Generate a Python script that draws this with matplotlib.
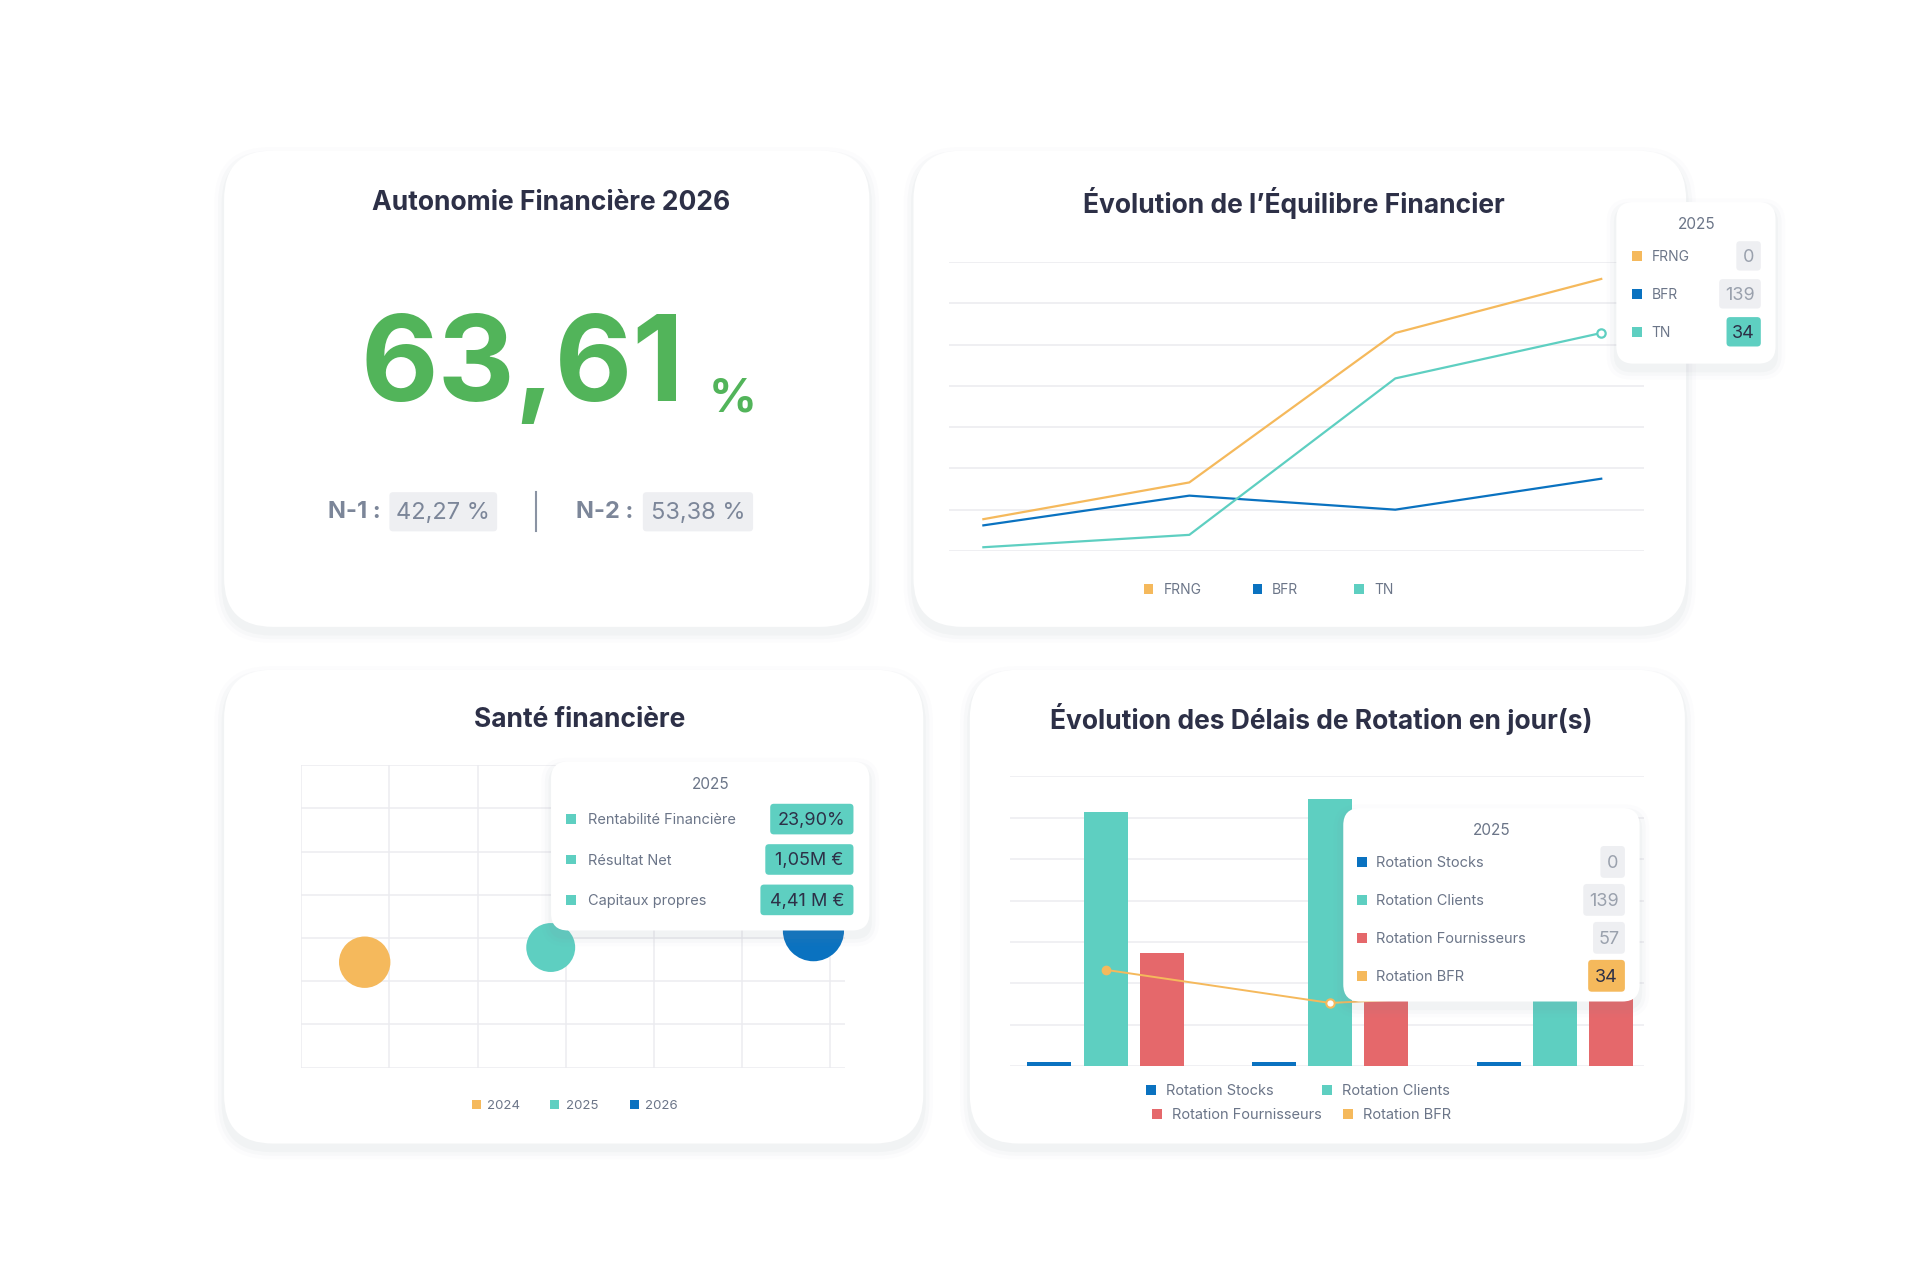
import matplotlib
matplotlib.use("Agg")
import matplotlib.pyplot as plt
from matplotlib.patches import FancyBboxPatch, Rectangle
import numpy as np

plt.rcParams['font.family'] = ['Inter', 'DejaVu Sans']

# ---- colours
ORANGE = "#f5b95c"
BLUE = "#0a72c0"
TEAL = "#5ecfc1"
RED = "#e5686b"
GREEN = "#52b45a"
DARK = "#2d3047"
GREY = "#6b7588"
GRID = "#ececf0"

# ---- data: Evolution de l'equilibre financier
eq_x = [0, 1, 2, 3]
frng = [0.77, 1.66, 5.28, 6.59]
bfr = [0.62, 1.34, 1.00, 1.75]
tn = [0.09, 0.39, 4.18, 5.28]

# ---- data: Sante financiere (bubbles)
sante_years = ["2024", "2025", "2026"]
sante_x = [0.72, 2.83, 5.81]
sante_y = [2.44, 2.78, 3.17]
sante_size = [1370, 1240, 1940]
sante_colors = [ORANGE, TEAL, BLUE]

# ---- data: Delais de rotation
rot_groups = [0, 1, 2]
rot_stocks = [0.1, 0.1, 0.1]
rot_clients = [6.14, 6.46, 5.0]
rot_fourn = [2.74, 2.3, 2.0]
rot_bfr = [2.33, 1.53, 1.8]

W, H = 1568, 1052  # working units (picture scaled)
fig = plt.figure(figsize=(19.2, 12.88), dpi=100)
fig.patch.set_facecolor("white")

def frac(x0, y0, x1, y1):
    return [x0 / W, 1 - y1 / H, (x1 - x0) / W, (y1 - y0) / H]

bg = fig.add_axes([0, 0, 1, 1], zorder=0)
bg.set_xlim(0, W); bg.set_ylim(H, 0); bg.axis("off")
top = fig.add_axes([0, 0, 1, 1], zorder=10)
top.set_xlim(0, W); top.set_ylim(H, 0); top.axis("off")
top.patch.set_alpha(0)

def card(ax, x0, y0, x1, y1, r=40, shadow=True):
    if shadow:
        for i, a in enumerate([0.05, 0.035, 0.02]):
            ax.add_patch(FancyBboxPatch((x0 - 2 - 3 * i, y0 - 1 - 3 * i + 4), x1 - x0 + 4 + 6 * i,
                                        y1 - y0 + 4 + 6 * i,
                                        boxstyle=f"round,pad=0,rounding_size={r + 3 * i}",
                                        fc="#8890a0", ec="none", alpha=a))
    ax.add_patch(FancyBboxPatch((x0, y0), x1 - x0, y1 - y0,
                                boxstyle=f"round,pad=0,rounding_size={r}",
                                fc="white", ec="none"))

def pill(ax, xc, yc, w, h, fc, txt, tc, fs=13):
    ax.add_patch(FancyBboxPatch((xc - w / 2, yc - h / 2), w, h,
                                boxstyle="round,pad=0,rounding_size=3", fc=fc, ec="none"))
    ax.text(xc, yc + 1, txt, ha="center", va="center", fontsize=fs, color=tc)

def square(ax, x, y, c, s=8):
    ax.add_patch(Rectangle((x - s / 2, y - s / 2), s, s, fc=c, ec="none"))

card(bg, 183, 123, 710, 512)
card(bg, 746, 123, 1377, 512)
card(bg, 183, 547, 754, 934)
card(bg, 792, 547, 1376, 934)

# ---- card 1
bg.text(450, 166, "Autonomie Financière 2026", ha="center", va="center",
        fontsize=19, fontweight="bold", color=DARK)
bg.text(427, 302, "63,61", ha="center", va="center", fontsize=86,
        fontweight="bold", color=GREEN)
bg.text(598, 326, "%", ha="center", va="center", fontsize=34, fontweight="bold", color=GREEN)
bg.text(289, 418, "N-1 :", ha="center", va="center", fontsize=17, fontweight="bold", color="#7c8699")
pill(bg, 362, 418, 88, 32, "#eeeff2", "42,27 %", "#7c8699", fs=17)
bg.plot([438, 438], [402, 434], color="#8a93a3", lw=1.5)
bg.text(494, 418, "N-2 :", ha="center", va="center", fontsize=17, fontweight="bold", color="#7c8699")
pill(bg, 570, 418, 90, 32, "#eeeff2", "53,38 %", "#7c8699", fs=17)

# ---- card 2: line chart
bg.text(1057, 166, "Évolution de l’Équilibre Financier", ha="center", va="center",
        fontsize=19, fontweight="bold", color=DARK)
ax1 = fig.add_axes(frac(775, 214, 1343, 450), zorder=5)
ax1.patch.set_alpha(0)
ax1.plot(eq_x, frng, color=ORANGE, lw=1.6)
ax1.plot(eq_x, bfr, color=BLUE, lw=1.6)
ax1.plot(eq_x, tn, color=TEAL, lw=1.6)
ax1.plot([eq_x[-1]], [tn[-1]], "o", mfc="white", mec=TEAL, mew=1.6, ms=6)
ax1.set_xlim(-0.167, 3.21)
ax1.set_ylim(0, 7)
ax1.set_yticks(range(8))
ax1.grid(axis="y", color=GRID, lw=1.2)
ax1.tick_params(left=False, bottom=False, labelleft=False, labelbottom=False)
for s in ax1.spines.values():
    s.set_visible(False)
for x, lab, c in [(938, "FRNG", ORANGE), (1027, "BFR", BLUE), (1110, "TN", TEAL)]:
    square(bg, x, 481, c)
    bg.text(x + 12, 482, lab, ha="left", va="center", fontsize=10, color=GREY)

card(top, 1320, 165, 1450, 297, r=14)
top.text(1386, 183, "2025", ha="center", va="center", fontsize=11, color=GREY)
for y, lab, c, val, fc, tc, w in [(209, "FRNG", ORANGE, "0", "#eeeff2", "#9aa1ad", 20),
                                  (240, "BFR", BLUE, "139", "#eeeff2", "#9aa1ad", 34),
                                  (271, "TN", TEAL, "34", TEAL, DARK, 28)]:
    square(top, 1337, y, c)
    top.text(1349, y + 1, lab, ha="left", va="center", fontsize=10, color=GREY)
    pill(top, 1438 - w / 2, y, w, 24, fc, val, tc, fs=13)

# ---- card 3: bubble chart
bg.text(473, 588, "Santé financière", ha="center", va="center",
        fontsize=19, fontweight="bold", color=DARK)
ax2 = fig.add_axes(frac(246, 625, 690, 872), zorder=5)
ax2.patch.set_alpha(0)
ax2.scatter(sante_x, sante_y, s=sante_size, c=sante_colors, zorder=3, linewidths=0)
ax2.set_xlim(0, 444 / 72)
ax2.set_ylim(0, 7)
ax2.set_xticks(range(7))
ax2.set_yticks(range(8))
ax2.grid(True, color=GRID, lw=1.1)
ax2.tick_params(left=False, bottom=False, labelleft=False, labelbottom=False)
for s in ax2.spines.values():
    s.set_visible(False)
for x, lab, c in zip([389, 453, 518], sante_years, sante_colors):
    square(bg, x, 902, c, s=7)
    bg.text(x + 9, 903, lab, ha="left", va="center", fontsize=9.5, color=GREY)

card(top, 450, 622, 710, 760, r=14)
top.text(580, 641, "2025", ha="center", va="center", fontsize=11, color=GREY)
for y, lab, val, w in [(669, "Rentabilité Financière", "23,90%", 68),
                       (702, "Résultat Net", "1,05M €", 72),
                       (735, "Capitaux propres", "4,41 M €", 76)]:
    square(top, 466, y, TEAL)
    top.text(480, y + 1, lab, ha="left", va="center", fontsize=10.5, color=GREY)
    pill(top, 697 - w / 2, y, w, 25, TEAL, val, DARK, fs=13)

# ---- card 4: bars
bg.text(1079, 587, "Évolution des Délais de Rotation en jour(s)", ha="center", va="center",
        fontsize=19, fontweight="bold", color=DARK)
ax3 = fig.add_axes(frac(825, 634, 1343, 871), zorder=5)
ax3.patch.set_alpha(0)
g = np.array(rot_groups)
bw = 0.196
ax3.bar(g - 0.25, rot_stocks, bw, color=BLUE, zorder=3)
ax3.bar(g, rot_clients, bw, color=TEAL, zorder=3)
ax3.bar(g + 0.25, rot_fourn, bw, color=RED, zorder=3)
ax3.plot(g, rot_bfr, color=ORANGE, lw=1.4, zorder=4)
ax3.plot(g[:1], rot_bfr[:1], "o", color=ORANGE, ms=6, zorder=5)
ax3.plot(g[1:2], rot_bfr[1:2], "o", mfc="white", mec=ORANGE, mew=1.5, ms=6, zorder=5)
ax3.set_xlim(-0.425, 2.40)
ax3.set_ylim(0, 7)
ax3.set_yticks(range(8))
ax3.grid(axis="y", color=GRID, lw=1.1)
ax3.tick_params(left=False, bottom=False, labelleft=False, labelbottom=False)
for s in ax3.spines.values():
    s.set_visible(False)
for x, y, lab, c in [(940, 890, "Rotation Stocks", BLUE), (1084, 890, "Rotation Clients", TEAL),
                     (945, 910, "Rotation Fournisseurs", RED), (1101, 910, "Rotation BFR", ORANGE)]:
    square(bg, x, y, c)
    bg.text(x + 12, y + 1, lab, ha="left", va="center", fontsize=10.5, color=GREY)

card(top, 1097, 660, 1339, 818, r=14)
top.text(1218, 678, "2025", ha="center", va="center", fontsize=11, color=GREY)
for y, lab, c, val, fc, tc, w in [(704, "Rotation Stocks", BLUE, "0", "#eeeff2", "#9aa1ad", 20),
                                  (735, "Rotation Clients", TEAL, "139", "#eeeff2", "#9aa1ad", 34),
                                  (766, "Rotation Fournisseurs", RED, "57", "#eeeff2", "#9aa1ad", 26),
                                  (797, "Rotation BFR", ORANGE, "34", ORANGE, DARK, 30)]:
    square(top, 1112, y, c)
    top.text(1124, y + 1, lab, ha="left", va="center", fontsize=10.5, color=GREY)
    pill(top, 1327 - w / 2, y, w, 26, fc, val, tc, fs=13)

fig.savefig("out.png", dpi=100, facecolor="white")
